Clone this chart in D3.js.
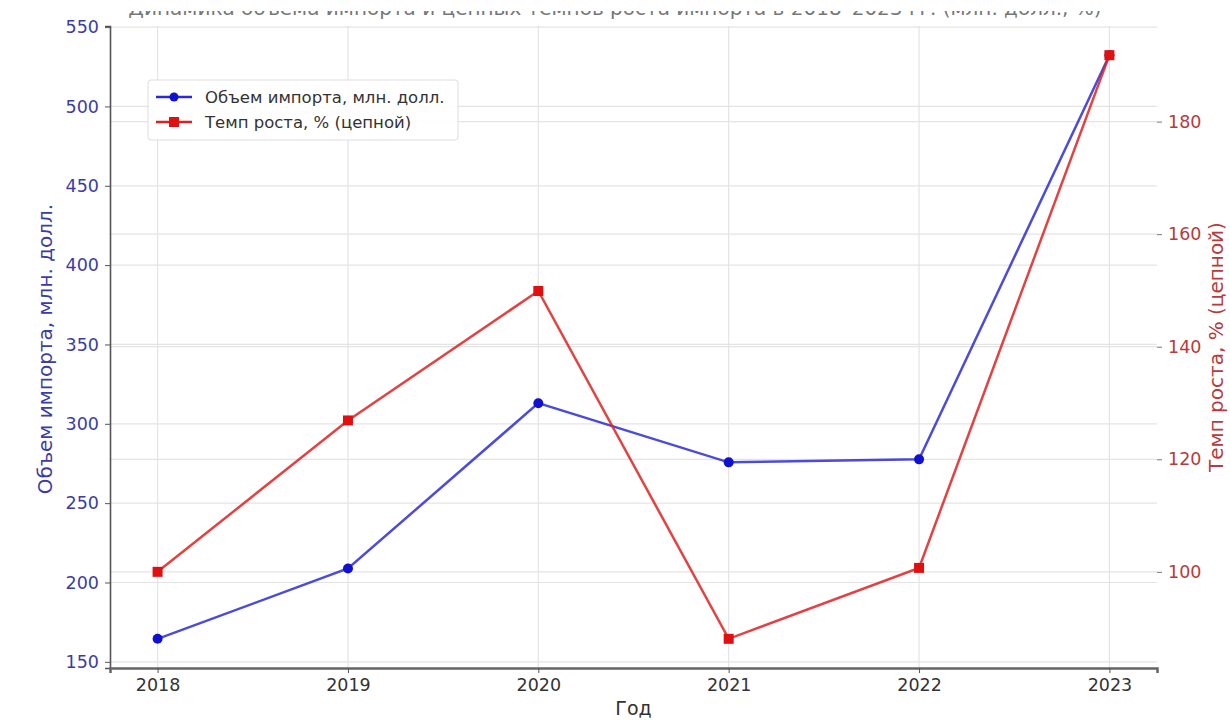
<!DOCTYPE html>
<html>
<head>
<meta charset="utf-8">
<script src="https://cdn.jsdelivr.net/npm/d3@7"></script>
<style>
  html, body { margin: 0; padding: 0; background: #fff; }
  svg { display: block; font-family: "DejaVu Sans", sans-serif; }
</style>
</head>
<body>
<svg id="chart" width="1230" height="720"></svg>
<script>
// ---- data ----
const years = [2018, 2019, 2020, 2021, 2022, 2023];
const importVolume = [164.5, 208.8, 313.0, 275.7, 277.6, 532.3];
const growthRate = [100.0, 126.9, 149.9, 88.1, 100.7, 191.8];
const leftTicks = [150, 200, 250, 300, 350, 400, 450, 500, 550];
const rightTicks = [100, 120, 140, 160, 180];
const titleText = "Динамика объема импорта и цепных темпов роста импорта в 2018–2023 гг. (млн. долл., %)";
const leftLabel = "Объем импорта, млн. долл.";
const rightLabel = "Темп роста, % (цепной)";
const xLabel = "Год";
const legendLabels = ["Объем импорта, млн. долл.", "Темп роста, % (цепной)"];

// ---- layout ----
const svg = d3.select("#chart");
const L = 110, R = 1157, T = 26, B = 668;

function padded(arr, p = 0.05) {
  const mn = d3.min(arr), mx = d3.max(arr), r = mx - mn;
  return [mn - r * p, mx + r * p];
}
const x = d3.scaleLinear().domain(padded(years)).range([L, R]);
const yL = d3.scaleLinear().domain(padded(importVolume)).range([B, T]);
const yR = d3.scaleLinear().domain(padded(growthRate)).range([B, T]);

const blue = "#2b2bd6", red = "#e02020";
const blueText = "#3c3ca8", redText = "#b93a3a";

// title (clipped at the top like the reference)
svg.append("clipPath").attr("id", "tclip")
  .append("rect").attr("x", 0).attr("y", 11).attr("width", 1230).attr("height", 8);
svg.append("text").attr("clip-path", "url(#tclip)")
  .attr("x", 615).attr("y", 15).attr("text-anchor", "middle")
  .attr("font-size", 20).attr("fill", "#777")
  .text(titleText);

// grids
const grid = svg.append("g").attr("stroke", "#e4e4e4").attr("stroke-width", 1.2);
grid.selectAll(".gx").data(years).join("line")
  .attr("x1", d => x(d)).attr("x2", d => x(d)).attr("y1", T).attr("y2", B);
grid.selectAll(".gl").data(leftTicks).join("line")
  .attr("x1", L).attr("x2", R).attr("y1", d => yL(d)).attr("y2", d => yL(d));
grid.selectAll(".gr").data(rightTicks).join("line")
  .attr("x1", L).attr("x2", R).attr("y1", d => yR(d)).attr("y2", d => yR(d));

// axes
const axL = svg.append("g").attr("transform", `translate(${L},0)`)
  .call(d3.axisLeft(yL).tickValues(leftTicks).tickSize(5).tickPadding(6).tickFormat(d3.format("d")));
axL.select(".domain").attr("stroke", "#555").attr("stroke-width", 1.6);
axL.selectAll(".tick line").attr("stroke", "#555");
axL.selectAll(".tick text").attr("fill", blueText).attr("font-size", 17.5).attr("font-family", "DejaVu Sans");

const axR = svg.append("g").attr("transform", `translate(${R},0)`)
  .call(d3.axisRight(yR).tickValues(rightTicks).tickSize(5).tickPadding(6).tickFormat(d3.format("d")));
axR.select(".domain").remove();
axR.selectAll(".tick line").attr("stroke", "#777");
axR.selectAll(".tick text").attr("fill", redText).attr("font-size", 17.5).attr("font-family", "DejaVu Sans");

const axB = svg.append("g").attr("transform", `translate(0,${B})`)
  .call(d3.axisBottom(x).tickValues(years).tickSize(5).tickPadding(6).tickFormat(d3.format("d")));
axB.select(".domain").attr("stroke", "#666").attr("stroke-width", 2.5);
axB.selectAll(".tick line").attr("stroke", "#555");
axB.selectAll(".tick text").attr("fill", "#333").attr("font-size", 17.5).attr("font-family", "DejaVu Sans");

// axis titles
svg.append("text").attr("transform", `translate(52,${(T + B) / 2 + 2}) rotate(-90)`)
  .attr("text-anchor", "middle").attr("font-size", 20).attr("fill", blueText).text(leftLabel);
svg.append("text").attr("transform", `translate(1223,${(T + B) / 2}) rotate(-90)`)
  .attr("text-anchor", "middle").attr("font-size", 20).attr("fill", redText).text(rightLabel);
svg.append("text").attr("x", (L + R) / 2).attr("y", 715).attr("text-anchor", "middle")
  .attr("font-size", 19).attr("fill", "#333").text(xLabel);

// lines
const lineL = d3.line().x((d, i) => x(years[i])).y(d => yL(d));
const lineR = d3.line().x((d, i) => x(years[i])).y(d => yR(d));
svg.append("path").datum(importVolume).attr("d", lineL)
  .attr("fill", "none").attr("stroke", blue).attr("stroke-width", 2.5).attr("stroke-opacity", 0.85);
svg.append("path").datum(growthRate).attr("d", lineR)
  .attr("fill", "none").attr("stroke", red).attr("stroke-width", 2.5).attr("stroke-opacity", 0.85);

svg.selectAll(".ptL").data(importVolume).join("circle")
  .attr("cx", (d, i) => x(years[i])).attr("cy", d => yL(d)).attr("r", 5).attr("fill", "#1010d0");
svg.selectAll(".ptR").data(growthRate).join("rect")
  .attr("x", (d, i) => x(years[i]) - 5).attr("y", d => yR(d) - 5)
  .attr("width", 10).attr("height", 10).attr("fill", "#e01010");

// legend
const lg = svg.append("g").attr("transform", "translate(148,80)");
lg.append("rect").attr("width", 310).attr("height", 60).attr("rx", 3)
  .attr("fill", "#fff").attr("fill-opacity", 0.9).attr("stroke", "#ddd");
const items = [{c: blue, m: "circle", t: legendLabels[0]}, {c: red, m: "square", t: legendLabels[1]}];
items.forEach((it, i) => {
  const cy = 17 + i * 25;
  lg.append("line").attr("x1", 8).attr("x2", 44).attr("y1", cy).attr("y2", cy)
    .attr("stroke", it.c).attr("stroke-width", 2.5);
  if (it.m === "circle") lg.append("circle").attr("cx", 26).attr("cy", cy).attr("r", 4.5).attr("fill", "#1010d0");
  else lg.append("rect").attr("x", 21).attr("y", cy - 5).attr("width", 10).attr("height", 10).attr("fill", "#e01010");
  lg.append("text").attr("x", 57).attr("y", cy + 6).attr("font-size", 16.5).attr("fill", "#333").text(it.t);
});
</script>
</body>
</html>
